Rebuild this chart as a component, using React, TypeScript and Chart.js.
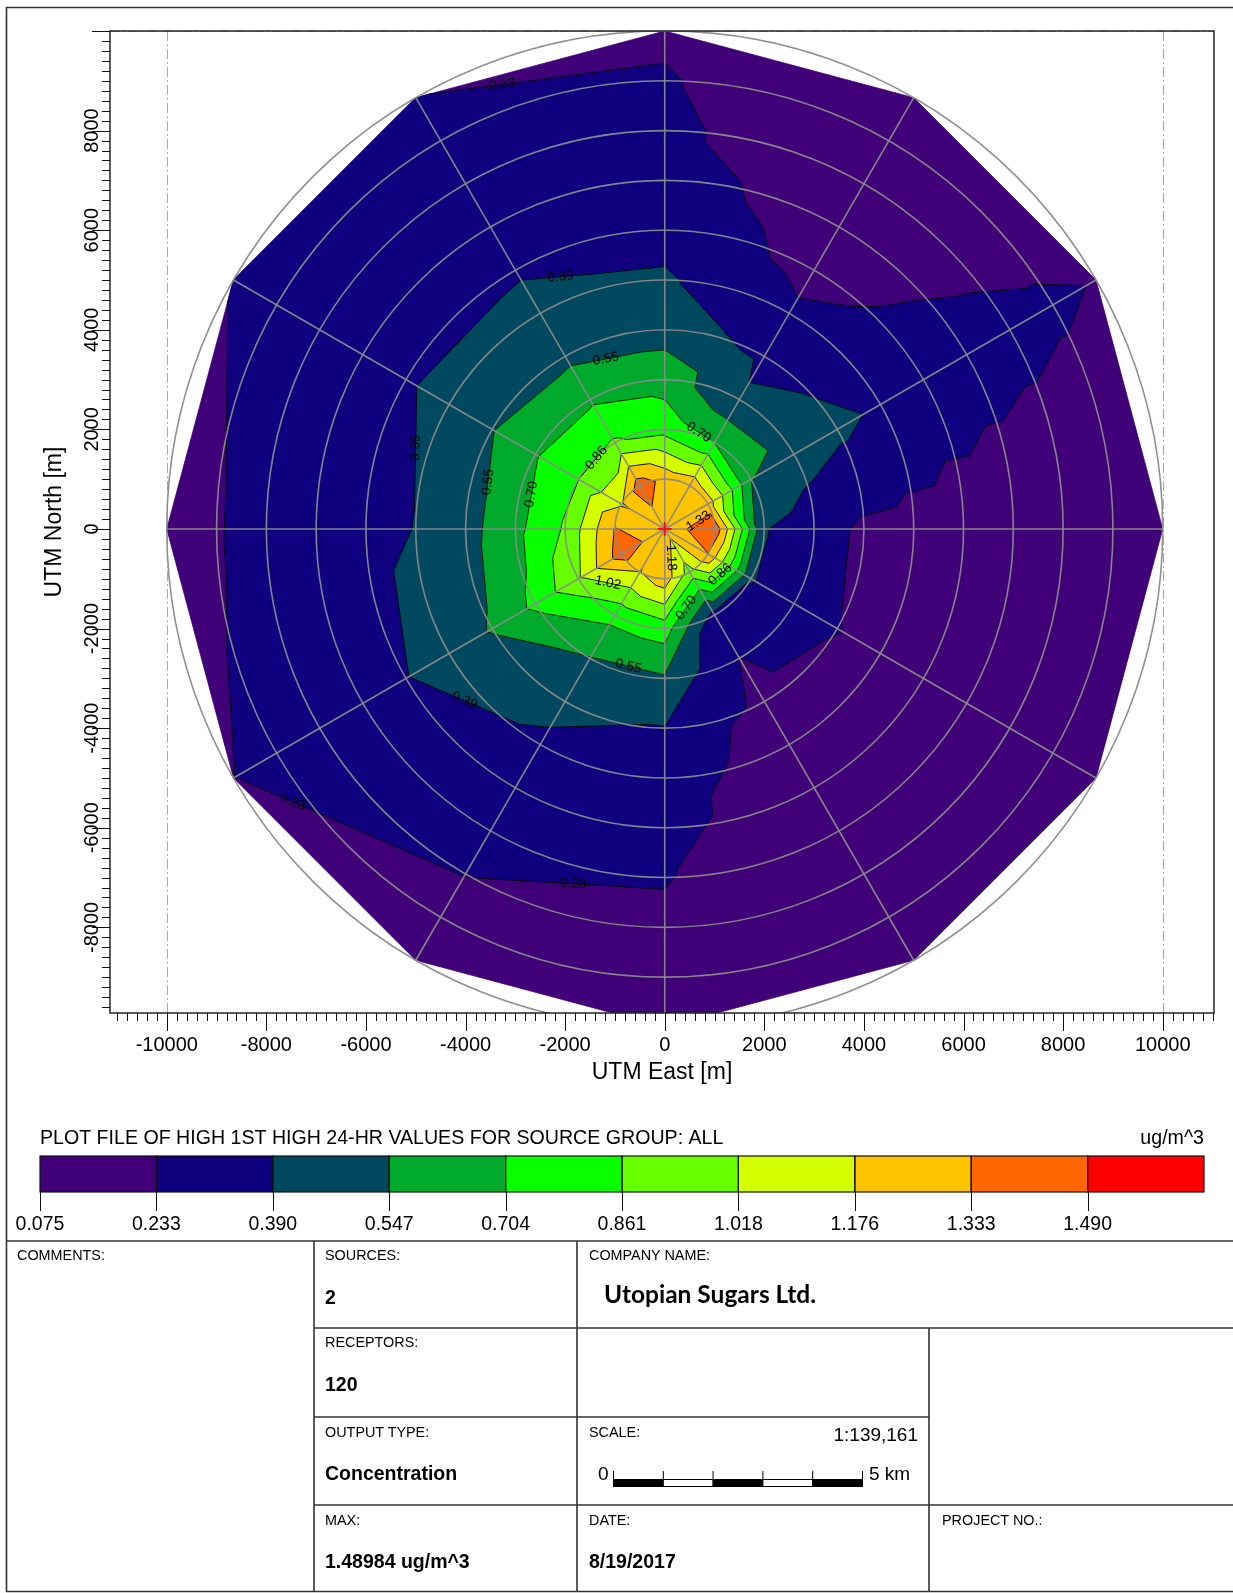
import React, { useEffect, useRef } from "react";
import { Chart, registerables } from "chart.js";

Chart.register(...registerables);

// ---------------- DATA ----------------
// Polar receptor grid: 12 directions (deg clockwise from north) x 10 rings (m) = 120 receptors
const directionsDeg = [0, 30, 60, 90, 120, 150, 180, 210, 240, 270, 300, 330];
const ringDistancesM = [1000, 2000, 3000, 4000, 5000, 6000, 7000, 8000, 9000, 10000];
const sourceConc = 1.24; // value used at the source location (grid centre)

// High 1st high 24-hr concentrations (ug/m^3) along each direction, ring 1..10
const conc000 = [1.28, 0.8, 0.64, 0.485, 0.41, 0.336, 0.3, 0.26, 0.243, 0.215];
const conc030 = [1.3, 0.704, 0.41, 0.36, 0.257, 0.19, 0.155, 0.125, 0.115, 0.11];
const conc060 = [1.26, 0.555, 0.47, 0.42, 0.37, 0.32, 0.29, 0.27, 0.25, 0.228];
const conc090 = [1.45, 0.4, 0.3, 0.207, 0.18, 0.16, 0.15, 0.14, 0.13, 0.125];
const conc120 = [1.33, 0.4, 0.31, 0.238, 0.19, 0.17, 0.155, 0.145, 0.135, 0.125];
const conc150 = [0.95, 0.33, 0.232, 0.2, 0.17, 0.155, 0.145, 0.135, 0.125, 0.12];
const conc180 = [1.27, 0.78, 0.53, 0.385, 0.3, 0.27, 0.24, 0.21, 0.19, 0.17];
const conc210 = [1.17, 0.75, 0.54, 0.42, 0.37, 0.33, 0.29, 0.235, 0.2, 0.175];
const conc240 = [1.42, 1.0, 0.74, 0.56, 0.46, 0.385, 0.34, 0.3, 0.26, 0.232];
const conc270 = [1.34, 0.88, 0.66, 0.49, 0.393, 0.355, 0.32, 0.26, 0.228, 0.2];
const conc300 = [1.16, 0.86, 0.69, 0.54, 0.45, 0.37, 0.33, 0.29, 0.26, 0.236];
const conc330 = [1.42, 0.88, 0.68, 0.51, 0.44, 0.375, 0.33, 0.29, 0.26, 0.234];
const concByDirection = [
  conc000, conc030, conc060, conc090, conc120, conc150,
  conc180, conc210, conc240, conc270, conc300, conc330,
];

// Contour levels / legend
const contourLevels = [0.075, 0.233, 0.39, 0.547, 0.704, 0.861, 1.018, 1.176, 1.333, 1.49];
const levelLabels = ["0.075", "0.233", "0.390", "0.547", "0.704", "0.861", "1.018", "1.176", "1.333", "1.490"];
const bandColors = [
  "#400078", "#100080", "#00495e", "#00aa2a", "#08ff00",
  "#66ff00", "#d4ff00", "#ffc400", "#ff6600", "#ff0000",
];
const legendTitle = "PLOT FILE OF HIGH 1ST HIGH 24-HR VALUES FOR SOURCE GROUP: ALL";
const legendUnits = "ug/m^3";

// Axes
const xTickValues = [-10000, -8000, -6000, -4000, -2000, 0, 2000, 4000, 6000, 8000, 10000];
const yTickValues = [-8000, -6000, -4000, -2000, 0, 2000, 4000, 6000, 8000];
const xTitle = "UTM East [m]";
const yTitle = "UTM North [m]";
const sourcePoint = [{ x: 0, y: 0 }];

// ---------------- GEOMETRY HELPERS ----------------
type V = { x: number; y: number; v: number };

function receptor(d: number, r: number): V {
  const a = (directionsDeg[d] * Math.PI) / 180;
  const dist = ringDistancesM[r];
  return { x: dist * Math.sin(a), y: dist * Math.cos(a), v: concByDirection[d][r] };
}

function buildTriangles(): V[][] {
  const tris: V[][] = [];
  const c: V = { x: 0, y: 0, v: sourceConc };
  const n = directionsDeg.length;
  for (let d = 0; d < n; d++) {
    const dn = (d + 1) % n;
    tris.push([c, receptor(d, 0), receptor(dn, 0)]);
    for (let r = 0; r < ringDistancesM.length - 1; r++) {
      const a = receptor(d, r);
      const b = receptor(dn, r);
      const c2 = receptor(dn, r + 1);
      const e = receptor(d, r + 1);
      tris.push([a, b, c2]);
      tris.push([a, c2, e]);
    }
  }
  return tris;
}

function clipAbove(poly: V[], L: number): V[] {
  const out: V[] = [];
  for (let i = 0; i < poly.length; i++) {
    const a = poly[i];
    const b = poly[(i + 1) % poly.length];
    const ain = a.v >= L;
    const bin = b.v >= L;
    if (ain) out.push(a);
    if (ain !== bin) {
      const t = (L - a.v) / (b.v - a.v);
      out.push({ x: a.x + t * (b.x - a.x), y: a.y + t * (b.y - a.y), v: L });
    }
  }
  return out;
}

type Seg = { x1: number; y1: number; x2: number; y2: number };

function levelSegment(t: V[], L: number): Seg | null {
  const pts: { x: number; y: number }[] = [];
  for (let i = 0; i < 3; i++) {
    const a = t[i];
    const b = t[(i + 1) % 3];
    if ((a.v >= L) !== (b.v >= L)) {
      const k = (L - a.v) / (b.v - a.v);
      pts.push({ x: a.x + k * (b.x - a.x), y: a.y + k * (b.y - a.y) });
    }
  }
  if (pts.length !== 2) return null;
  return { x1: pts[0].x, y1: pts[0].y, x2: pts[1].x, y2: pts[1].y };
}

const FONT = "'Liberation Sans', Arial, sans-serif";

const contourPlugin = {
  id: "contourField",
  beforeDatasetsDraw(chart: any) {
    const { ctx, chartArea: ca, scales } = chart;
    const xs = scales.x;
    const ys = scales.y;
    const P = (p: V): V => ({ x: xs.getPixelForValue(p.x), y: ys.getPixelForValue(p.y), v: p.v });
    ctx.save();
    ctx.beginPath();
    ctx.rect(ca.left, ca.top, ca.right - ca.left, ca.bottom - ca.top);
    ctx.clip();

    // receptor-grid extent lines (dash-dot)
    const ext = ringDistancesM[ringDistancesM.length - 1];
    ctx.strokeStyle = "#a8a8a8";
    ctx.lineWidth = 1;
    ctx.setLineDash([10, 3, 2, 3]);
    [-ext, ext].forEach((xv) => {
      const px = Math.round(xs.getPixelForValue(xv)) + 0.5;
      ctx.beginPath();
      ctx.moveTo(px, ca.top);
      ctx.lineTo(px, ca.bottom);
      ctx.stroke();
    });
    [-ext, ext].forEach((yv) => {
      const py = Math.round(ys.getPixelForValue(yv)) + 0.5;
      ctx.beginPath();
      ctx.moveTo(ca.left, py);
      ctx.lineTo(ca.right, py);
      ctx.stroke();
    });
    ctx.setLineDash([]);

    const tris = buildTriangles().map((t) => t.map(P));

    // filled bands (superlevel sets painted in order)
    contourLevels.forEach((lo, b) => {
      ctx.beginPath();
      let any = false;
      for (const t of tris) {
        const poly = clipAbove(t, lo);
        if (poly.length < 3) continue;
        any = true;
        ctx.moveTo(poly[0].x, poly[0].y);
        for (let i = 1; i < poly.length; i++) ctx.lineTo(poly[i].x, poly[i].y);
        ctx.closePath();
      }
      if (!any) return;
      ctx.fillStyle = bandColors[b];
      ctx.fill();
      ctx.strokeStyle = bandColors[b];
      ctx.lineWidth = 0.8;
      ctx.lineJoin = "round";
      ctx.stroke();
    });

    // contour lines
    const segsByLevel: Seg[][] = [];
    for (let li = 1; li < contourLevels.length; li++) {
      const L = contourLevels[li];
      const segs: Seg[] = [];
      for (const t of tris) {
        const s = levelSegment(t, L);
        if (s) segs.push(s);
      }
      segsByLevel.push(segs);
      ctx.beginPath();
      segs.forEach((s) => {
        ctx.moveTo(s.x1, s.y1);
        ctx.lineTo(s.x2, s.y2);
      });
      ctx.strokeStyle = "rgba(0,0,0,0.9)";
      ctx.lineWidth = 1;
      ctx.stroke();
    }

    // polar grid
    const cx = xs.getPixelForValue(0);
    const cy = ys.getPixelForValue(0);
    ctx.strokeStyle = "rgba(138,138,138,0.95)";
    ctx.lineWidth = 1.6;
    ringDistancesM.forEach((dist) => {
      const rp = xs.getPixelForValue(dist) - cx;
      ctx.beginPath();
      ctx.arc(cx, cy, rp, 0, Math.PI * 2);
      ctx.stroke();
    });
    directionsDeg.forEach((deg) => {
      const a = (deg * Math.PI) / 180;
      const dist = ringDistancesM[ringDistancesM.length - 1];
      ctx.beginPath();
      ctx.moveTo(cx, cy);
      ctx.lineTo(xs.getPixelForValue(dist * Math.sin(a)), ys.getPixelForValue(dist * Math.cos(a)));
      ctx.stroke();
    });

    // contour labels
    const placed: { x: number; y: number; k: number }[] = [];
    ctx.fillStyle = "#000";
    ctx.font = `13.5px ${FONT}`;
    ctx.textAlign = "center";
    ctx.textBaseline = "middle";
    segsByLevel.forEach((segs, k) => {
      const label = contourLevels[k + 1].toFixed(2);
      const cands = segs
        .map((s) => ({ ...s, len: Math.hypot(s.x2 - s.x1, s.y2 - s.y1) }))
        .filter((s) => s.len > 18)
        .sort((a, b) => b.len - a.len);
      let count = 0;
      for (const s of cands) {
        if (count >= 3) break;
        const mx = (s.x1 + s.x2) / 2;
        const my = (s.y1 + s.y2) / 2;
        if (placed.some((p) => Math.hypot(p.x - mx, p.y - my) < (p.k === k ? 170 : 40))) continue;
        placed.push({ x: mx, y: my, k });
        count++;
        let ang = Math.atan2(s.y2 - s.y1, s.x2 - s.x1);
        if (ang > Math.PI / 2) ang -= Math.PI;
        if (ang < -Math.PI / 2) ang += Math.PI;
        ctx.save();
        ctx.translate(mx, my);
        ctx.rotate(ang);
        ctx.fillText(label, 0, 0);
        ctx.restore();
      }
    });

    ctx.restore();
  },
};

const axesPlugin = {
  id: "axesAndLegend",
  afterDraw(chart: any) {
    const { ctx, chartArea: ca, scales } = chart;
    const xs = scales.x;
    const ys = scales.y;
    ctx.save();

    // plot frame
    ctx.strokeStyle = "#222";
    ctx.lineWidth = 1.5;
    ctx.strokeRect(ca.left, ca.top, ca.right - ca.left, ca.bottom - ca.top);

    // ticks
    ctx.lineWidth = 1;
    ctx.strokeStyle = "#111";
    const minorStep = 200;
    ctx.beginPath();
    for (let v = Math.ceil(xs.min / minorStep) * minorStep; v <= xs.max; v += minorStep) {
      const px = Math.round(xs.getPixelForValue(v)) + 0.5;
      const len = v % 2000 === 0 ? 18 : 8;
      ctx.moveTo(px, ca.bottom);
      ctx.lineTo(px, ca.bottom + len);
    }
    for (let v = Math.ceil(ys.min / minorStep) * minorStep; v <= ys.max; v += minorStep) {
      const py = Math.round(ys.getPixelForValue(v)) + 0.5;
      const len = v % 2000 === 0 ? 18 : 8;
      ctx.moveTo(ca.left, py);
      ctx.lineTo(ca.left - len, py);
    }
    ctx.stroke();

    // tick labels
    ctx.fillStyle = "#000";
    ctx.font = `20px ${FONT}`;
    ctx.textAlign = "center";
    ctx.textBaseline = "alphabetic";
    xTickValues.forEach((v) => {
      ctx.fillText(String(v), xs.getPixelForValue(v), ca.bottom + 38);
    });
    yTickValues.forEach((v) => {
      ctx.save();
      ctx.translate(ca.left - 12, ys.getPixelForValue(v));
      ctx.rotate(-Math.PI / 2);
      ctx.fillText(String(v), 0, 0);
      ctx.restore();
    });

    // axis titles
    ctx.font = `23px ${FONT}`;
    ctx.fillText(xTitle, (ca.left + ca.right) / 2, ca.bottom + 66);
    ctx.save();
    ctx.translate(61, (ca.top + ca.bottom) / 2);
    ctx.rotate(-Math.PI / 2);
    ctx.fillText(yTitle, 0, 0);
    ctx.restore();

    // colour legend
    const cbLeft = 40;
    const cbRight = 1204;
    const cbTop = 1156;
    const cbBottom = 1192;
    const w = (cbRight - cbLeft) / bandColors.length;
    ctx.font = `19.6px ${FONT}`;
    ctx.textAlign = "left";
    ctx.fillText(legendTitle, cbLeft, 1144);
    ctx.textAlign = "right";
    ctx.fillText(legendUnits, cbRight, 1144);
    bandColors.forEach((c, i) => {
      ctx.fillStyle = c;
      ctx.fillRect(cbLeft + i * w, cbTop, w, cbBottom - cbTop);
    });
    ctx.strokeStyle = "#111";
    ctx.lineWidth = 1.2;
    bandColors.forEach((_, i) => {
      ctx.strokeRect(cbLeft + i * w, cbTop, w, cbBottom - cbTop);
    });
    ctx.beginPath();
    levelLabels.forEach((_, i) => {
      const x = Math.round(cbLeft + i * w) + 0.5;
      ctx.moveTo(x, cbBottom);
      ctx.lineTo(x, cbBottom + 19);
    });
    ctx.lineWidth = 1;
    ctx.stroke();
    ctx.fillStyle = "#000";
    ctx.font = `19.5px ${FONT}`;
    ctx.textAlign = "center";
    levelLabels.forEach((lab, i) => {
      ctx.fillText(lab, cbLeft + i * w, 1230);
    });

    ctx.restore();
  },
};

// ---------------- PAGE PARTS ----------------
function Txt(props: {
  x: number;
  base: number;
  size: number;
  bold?: boolean;
  family?: string;
  asc?: number;
  right?: boolean;
  children: React.ReactNode;
}) {
  const { x, base, size, bold, family = FONT, asc = 0.8465, right, children } = props;
  const style: React.CSSProperties = {
    position: "absolute",
    top: base - asc * size,
    fontFamily: family,
    fontSize: size,
    fontWeight: bold ? 700 : 400,
    lineHeight: `${size}px`,
    whiteSpace: "nowrap",
    color: "#000",
  };
  if (right) style.right = 1233 - x;
  else style.left = x;
  return <div style={style}>{children}</div>;
}

export default function App() {
  const ref = useRef<HTMLCanvasElement | null>(null);

  useEffect(() => {
    if (!ref.current) return;
    const chart = new Chart(ref.current, {
      type: "scatter",
      data: {
        datasets: [
          {
            label: "Source",
            data: sourcePoint,
            pointStyle: "cross",
            pointRadius: 7,
            borderColor: "#ff1010",
            backgroundColor: "#ff1010",
            borderWidth: 2,
          },
        ],
      },
      options: {
        responsive: false,
        animation: false,
        devicePixelRatio: 1,
        events: [],
        layout: { padding: { left: 110, top: 31, right: 19, bottom: 1240 - 1013 } },
        scales: {
          x: { type: "linear", display: false, min: -11140, max: 11030 },
          y: { type: "linear", display: false, min: -9720, max: 10000 },
        },
        plugins: { legend: { display: false }, tooltip: { enabled: false } },
      } as any,
      plugins: [contourPlugin, axesPlugin],
    });
    return () => chart.destroy();
  }, []);

  const stroke = "#333";
  const sw = 1.6;
  const scaleX0 = 613.5;
  const scaleX1 = 862.5;
  const scaleSegs = 5;
  const segW = (scaleX1 - scaleX0) / scaleSegs;

  return (
    <div
      style={{
        position: "absolute",
        left: 0,
        top: 0,
        width: 1233,
        height: 1593,
        background: "#fff",
        overflow: "hidden",
      }}
    >
      <canvas
        ref={ref}
        width={1233}
        height={1240}
        style={{ position: "absolute", left: 0, top: 0, width: 1233, height: 1240 }}
      />
      <svg
        width={1233}
        height={1593}
        style={{ position: "absolute", left: 0, top: 0, pointerEvents: "none" }}
      >
        <line x1={6} y1={7.5} x2={1233} y2={7.5} stroke={stroke} strokeWidth={sw} />
        <line x1={6.5} y1={7} x2={6.5} y2={1592} stroke={stroke} strokeWidth={sw} />
        <line x1={6} y1={1241} x2={1233} y2={1241} stroke={stroke} strokeWidth={sw} />
        <line x1={6} y1={1591.5} x2={1233} y2={1591.5} stroke={stroke} strokeWidth={sw} />
        <line x1={314} y1={1241} x2={314} y2={1592} stroke={stroke} strokeWidth={sw} />
        <line x1={577} y1={1241} x2={577} y2={1592} stroke={stroke} strokeWidth={sw} />
        <line x1={929} y1={1328} x2={929} y2={1592} stroke={stroke} strokeWidth={sw} />
        <line x1={314} y1={1328} x2={1233} y2={1328} stroke={stroke} strokeWidth={sw} />
        <line x1={314} y1={1417} x2={929} y2={1417} stroke={stroke} strokeWidth={sw} />
        <line x1={314} y1={1505} x2={1233} y2={1505} stroke={stroke} strokeWidth={sw} />
        {Array.from({ length: scaleSegs }).map((_, i) => (
          <rect
            key={i}
            x={scaleX0 + i * segW}
            y={1479.5}
            width={segW}
            height={7}
            fill={i % 2 === 0 ? "#000" : "#fff"}
            stroke="#000"
            strokeWidth={1}
          />
        ))}
        {Array.from({ length: scaleSegs + 1 }).map((_, i) => (
          <line
            key={i}
            x1={scaleX0 + i * segW}
            y1={1471}
            x2={scaleX0 + i * segW}
            y2={1480}
            stroke="#000"
            strokeWidth={1}
          />
        ))}
      </svg>

      <Txt x={17} base={1260} size={14.4}>COMMENTS:</Txt>
      <Txt x={325} base={1260} size={14.4}>SOURCES:</Txt>
      <Txt x={325} base={1305} size={19.5} bold>2</Txt>
      <Txt x={589} base={1260} size={14.4}>COMPANY NAME:</Txt>
      <Txt x={604} base={1304} size={24.5} bold family="Lato, 'Open Sans', sans-serif" asc={0.887}>
        Utopian Sugars Ltd.
      </Txt>
      <Txt x={325} base={1347} size={14.4}>RECEPTORS:</Txt>
      <Txt x={325} base={1392} size={19.5} bold>120</Txt>
      <Txt x={325} base={1437} size={14.4}>OUTPUT TYPE:</Txt>
      <Txt x={325} base={1480.5} size={19.5} bold>Concentration</Txt>
      <Txt x={589} base={1437} size={14.4}>SCALE:</Txt>
      <Txt x={918} base={1441} size={19} right>1:139,161</Txt>
      <Txt x={598} base={1480} size={19}>0</Txt>
      <Txt x={869} base={1480} size={19}>5 km</Txt>
      <Txt x={325} base={1525} size={14.4}>MAX:</Txt>
      <Txt x={325} base={1569} size={19.5} bold>1.48984 ug/m^3</Txt>
      <Txt x={589} base={1525} size={14.4}>DATE:</Txt>
      <Txt x={589} base={1568.5} size={19.5} bold>8/19/2017</Txt>
      <Txt x={942} base={1525} size={14.4}>PROJECT NO.:</Txt>
    </div>
  );
}
